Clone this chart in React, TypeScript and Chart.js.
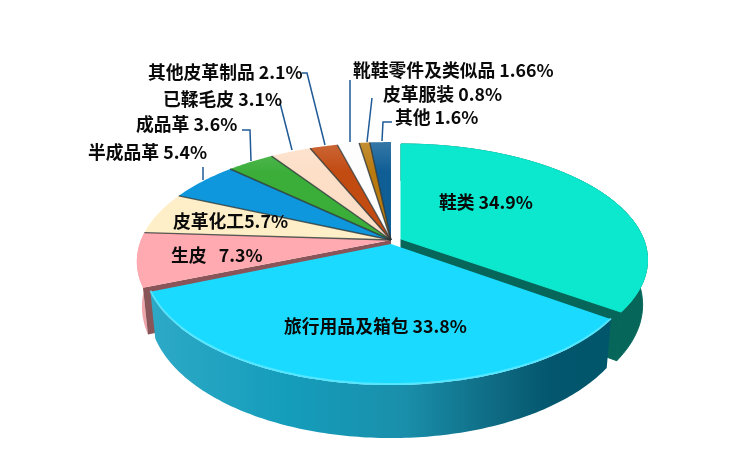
import React, { useEffect, useRef } from "react";
import { Chart, registerables } from "chart.js";

Chart.register(...registerables);

const categories = ["鞋类", "旅行用品及箱包", "生皮", "皮革化工", "半成品革", "成品革", "已鞣毛皮", "其他皮革制品", "靴鞋零件及类似品", "皮革服装", "其他"];
const shares = [34.9, 33.8, 7.3, 5.7, 5.4, 3.6, 3.1, 2.1, 1.66, 0.8, 1.6];
const labelTexts = ["鞋类 34.9%", "旅行用品及箱包 33.8%", "生皮   7.3%", "皮革化工5.7%", "半成品革 5.4%", "成品革 3.6%", "已鞣毛皮 3.1%", "其他皮革制品 2.1%", "靴鞋零件及类似品 1.66%", "皮革服装 0.8%", "其他 1.6%"];
const faceColors = ["#0BE8CE", "#1ADBFF", "#FFAAB0", "#FFEFC8", "#0E97DC", "#3BAE3A", "#FDDFC8", "#C24B12", "#FDFDFD", "#B97A0F", "#0F5E96"];

// layout only: [left x, middle y] of each label, in category order
const labelAnchors = [[439, 202], [284, 326], [171, 255], [173, 221], [88, 152], [136, 124], [163, 99], [148, 72], [353, 70], [383, 94], [395, 117]];
// layout only: leader line polylines, for the labels that sit off the pie
const leaders: Record<number, number[][]> = {
  4: [[203, 167], [203, 180]],
  5: [[242, 130], [250, 130], [251, 161]],
  6: [[280, 103], [292, 150]],
  7: [[302, 73], [307, 73], [325, 145]],
  8: [[350, 80], [350, 142]],
  9: [[372, 98], [367, 142]],
  10: [[392, 122], [383, 122], [382, 141]],
};

const CX = 391, CY = 240, K = 250, TILT = 115.6, D = 5.55, DEPTH = 43.5;

function project(a: number, r: number, low: boolean, c: { ox: number; oy: number; sc: number; scy: number }) {
  const x = Math.cos(a) * r, y = Math.sin(a) * r;
  const s = D / (D - y);
  const shrink = low ? 0.98 : 1;
  return {
    x: CX + c.ox + x * s * K * c.sc * shrink,
    y: CY + c.oy + y * s * TILT * c.scy + (low ? DEPTH * s : 0),
  };
}

function arcPts(a0: number, a1: number, low: boolean, c: any) {
  const pts = [];
  const n = Math.max(2, Math.ceil(Math.abs(a1 - a0) / 0.015));
  for (let i = 0; i <= n; i++) pts.push(project(a0 + ((a1 - a0) * i) / n, 1, low, c));
  return pts;
}

function fillPoly(ctx: CanvasRenderingContext2D, pts: any[], fill: any, seal = false) {
  ctx.beginPath();
  pts.forEach((p, i) => (i ? ctx.lineTo(p.x, p.y) : ctx.moveTo(p.x, p.y)));
  ctx.closePath();
  ctx.fillStyle = fill;
  ctx.fill();
  if (seal) {
    ctx.strokeStyle = fill;
    ctx.lineWidth = 1;
    ctx.stroke();
  }
}

function grad(ctx: CanvasRenderingContext2D, x0: number, x1: number, stops: [number, string][]) {
  const g = ctx.createLinearGradient(x0, 0, x1, 0);
  stops.forEach(([o, col]) => g.addColorStop(o, col));
  return g;
}

const NONE = { ox: 0, oy: 0, sc: 1, scy: 1 };
const TEAL = { ox: 10, oy: -1, sc: 0.97, scy: 0.97 };
const BLUE = { ox: 0, oy: 4, sc: 0.97, scy: 1 };

const pie3d = {
  id: "pie3d",
  beforeDatasetsDraw(chart: any) {
    const ctx: CanvasRenderingContext2D = chart.ctx;
    const arcs = chart.getDatasetMeta(0).data;
    ctx.save();

    // back group of small slices
    {
      const { startAngle: s, endAngle: e } = arcs[2];
      const topRim = arcPts(s, e, false, NONE);
      const lowRim = arcPts(s, e, true, NONE).reverse();
      fillPoly(ctx, [...topRim, ...lowRim], grad(ctx, 135, 165, [[0, "#F6A8AE"], [1, "#DCA0A4"]]));
      const apexT = project(0, 0, false, NONE), apexL = project(0, 0, true, NONE);
      fillPoly(ctx, [apexT, project(s, 1, false, NONE), project(s, 1, true, NONE), apexL], "#8A5558");
    }
    for (let i = 2; i < arcs.length; i++) {
      const { startAngle: s, endAngle: e } = arcs[i];
      const apex = project(0, 0, false, NONE);
      const poly = [apex, ...arcPts(s, e, false, NONE)];
      fillPoly(ctx, poly, faceColors[i]);
      if (i >= 4) {
        const g = ctx.createLinearGradient(0, 142, 0, 172);
        g.addColorStop(0, "rgba(255,255,255,0.16)");
        g.addColorStop(1, "rgba(255,255,255,0)");
        fillPoly(ctx, poly, g);
      }
    }
    for (let i = 3; i < arcs.length; i++) {
      const { startAngle: s } = arcs[i];
      const apex = project(0, 0, false, NONE);
      const rim = project(s, 1, false, NONE);
      ctx.beginPath();
      ctx.moveTo(apex.x, apex.y);
      ctx.lineTo(rim.x, rim.y);
      ctx.lineWidth = 1.4;
      ctx.strokeStyle = "rgba(45,55,55,0.8)";
      ctx.stroke();
    }

    // shoes slice
    {
      const { startAngle: s, endAngle: e } = arcs[0];
      const wall = "#06665A";
      fillPoly(ctx, [...arcPts(s, e, false, TEAL), ...arcPts(s, e, true, TEAL).reverse()], wall, true);
      fillPoly(ctx, [project(0, 0, false, TEAL), project(e, 1, false, TEAL), project(e, 1, true, TEAL), project(0, 0, true, TEAL)], wall, true);
      fillPoly(ctx, [project(0, 0, false, TEAL), ...arcPts(s, e, false, TEAL)], faceColors[0], true);
    }

    // travel goods slice
    {
      const { startAngle: s, endAngle: e } = arcs[1];
      fillPoly(ctx, [...arcPts(s, e, false, BLUE), ...arcPts(s, e, true, BLUE).reverse()],
        grad(ctx, 150, 612, [[0, "#2DA9C6"], [0.3, "#149DBB"], [0.55, "#1A8FAB"], [0.75, "#0E6A82"], [0.87, "#03566D"], [1, "#00566B"]]));
      fillPoly(ctx, [project(0, 0, false, BLUE), ...arcPts(s, e, false, BLUE)], faceColors[1]);
      const rim = arcPts(s, e, false, BLUE);
      ctx.beginPath();
      rim.forEach((p, i) => (i ? ctx.lineTo(p.x, p.y - 1) : ctx.moveTo(p.x, p.y - 1)));
      ctx.lineWidth = 2;
      ctx.strokeStyle = "rgba(110,235,255,0.7)";
      ctx.stroke();
    }

    // leader lines
    ctx.strokeStyle = "#1F5A96";
    ctx.lineWidth = 1.5;
    Object.values(leaders).forEach((pts) => {
      ctx.beginPath();
      pts.forEach(([x, y], i) => (i ? ctx.lineTo(x, y) : ctx.moveTo(x, y)));
      ctx.stroke();
    });

    // labels
    ctx.fillStyle = "#0a0a0a";
    ctx.font = 'bold 17.8px "Noto Sans CJK SC"';
    ctx.textAlign = "left";
    ctx.textBaseline = "middle";
    labelTexts.forEach((t, i) => ctx.fillText(t, labelAnchors[i][0], labelAnchors[i][1]));
    ctx.restore();
    return false;
  },
};

export default function App() {
  const ref = useRef<HTMLCanvasElement>(null);
  useEffect(() => {
    const chart = new Chart(ref.current!, {
      type: "pie",
      data: { labels: categories, datasets: [{ data: shares, backgroundColor: faceColors, borderWidth: 0 }] },
      options: {
        animation: false,
        responsive: false,
        devicePixelRatio: 1,
        rotation: 0,
        plugins: { legend: { display: false }, tooltip: { enabled: false } },
      },
      plugins: [pie3d],
    } as any);
    return () => chart.destroy();
  }, []);
  return (
    <div style={{ position: "fixed", left: 0, top: 0, width: 750, height: 449, background: "#fff" }}>
      <canvas ref={ref} width={750} height={449} style={{ display: "block" }} />
    </div>
  );
}
